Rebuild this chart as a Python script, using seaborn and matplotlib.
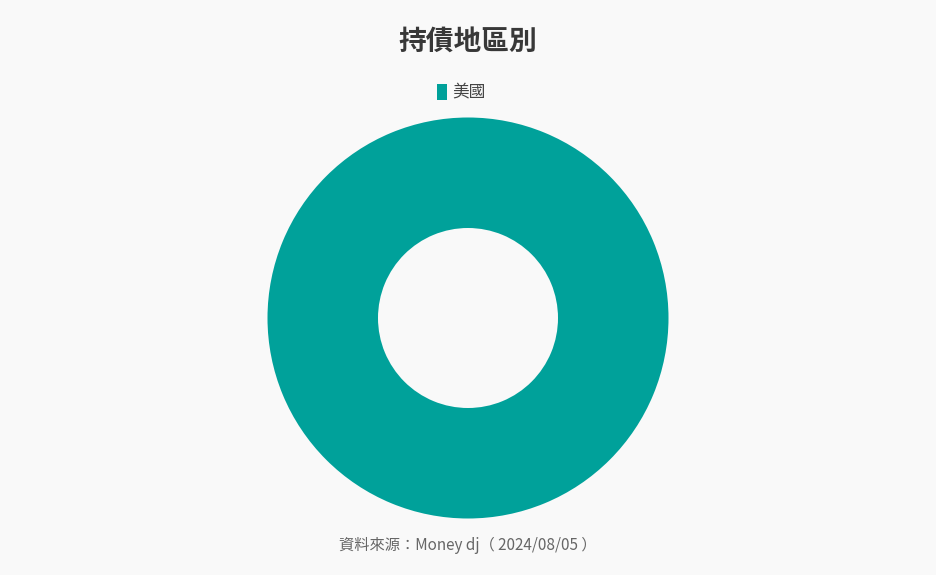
import matplotlib
matplotlib.use("Agg")
import matplotlib.pyplot as plt
from matplotlib.patches import Patch
import seaborn as sns

# data
regions = ["美國"]
shares = [100.0]
colors = ["#00a19a"]

title = "持債地區別"
source = "資料來源：Money dj（ 2024/08/05 ）"

sns.set_style("white")
plt.rcParams['font.family'] = ['Noto Sans CJK TC', 'DejaVu Sans']

bg = "#f9f9f9"
fig = plt.figure(figsize=(9.36, 5.75), dpi=100, facecolor=bg)

# axes sized so that radius 1 = ~200 px, centred at (468, 318)
w, h = 936, 575
cx, cy, r = 468, 318, 200.5
ax = fig.add_axes([(cx - r) / w, 1 - (cy + r) / h, 2 * r / w, 2 * r / h])
ax.set_facecolor(bg)

ax.pie(shares, colors=colors, radius=1, startangle=90, counterclock=False,
       wedgeprops=dict(width=1 - 90 / 200.5, edgecolor="none"))
ax.set_xlim(-1, 1)
ax.set_ylim(-1, 1)
ax.set_aspect("equal")
ax.axis("off")

fig.text(0.5, 1 - 42 / h, title, ha="center", va="center",
         fontsize=20, color="#383838", fontweight="bold")

handles = [Patch(facecolor=c, edgecolor="none") for c in colors]
fig.legend(handles, regions, loc="center", bbox_to_anchor=(461 / w, 1 - 93 / h),
           frameon=False, fontsize=12, handlelength=0.6, handleheight=1.1,
           handletextpad=0.3, labelcolor="#444444")

fig.text(0.5, 1 - 545 / h, source, ha="center", va="center",
         fontsize=11, color="#666666")

fig.savefig("out.png", dpi=100, facecolor=bg)
